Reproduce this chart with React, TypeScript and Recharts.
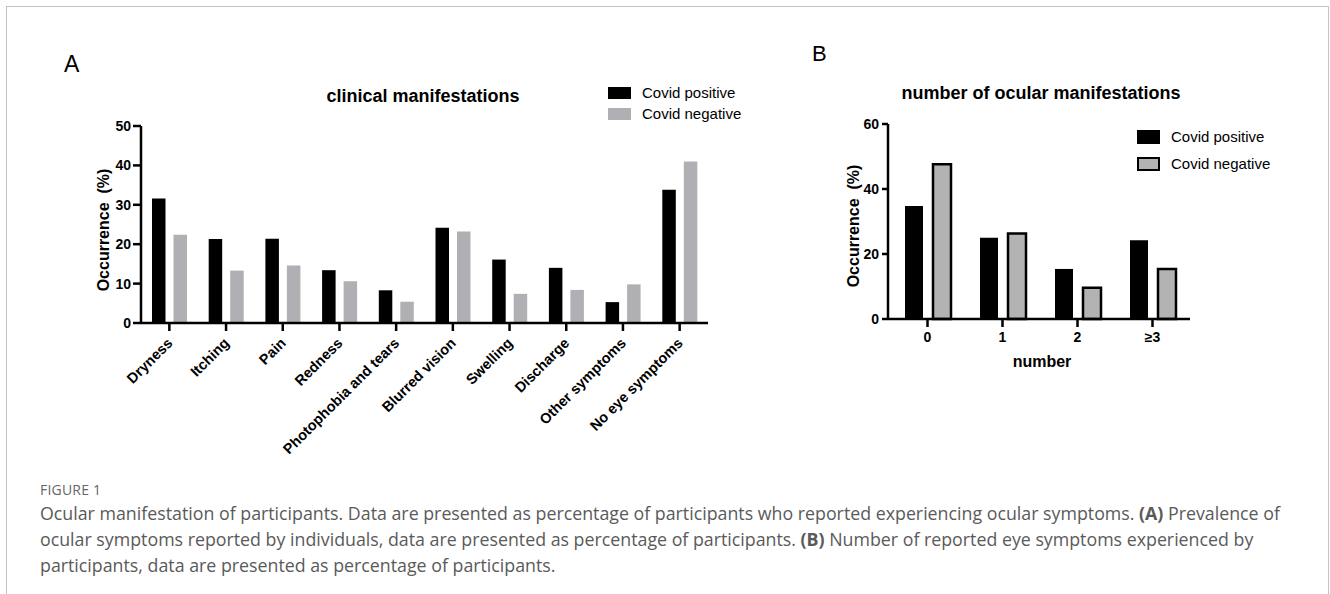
import { BarChart, Bar, XAxis, YAxis, Legend } from 'recharts';

// panel A
const symptoms = [
  'Dryness',
  'Itching',
  'Pain',
  'Redness',
  'Photophobia and tears',
  'Blurred vision',
  'Swelling',
  'Discharge',
  'Other symptoms',
  'No eye symptoms',
];
const symptomPositive = [31.6, 21.3, 21.4, 13.4, 8.3, 24.2, 16.1, 14.0, 5.3, 33.8];
const symptomNegative = [22.4, 13.3, 14.6, 10.6, 5.4, 23.2, 7.4, 8.4, 9.8, 41.0];
const ticksA = [0, 10, 20, 30, 40, 50];

// panel B
const counts = ['0', '1', '2', '≥3'];
const countPositive = [34.8, 25.0, 15.4, 24.2];
const countNegative = [47.6, 26.3, 9.6, 15.4];
const ticksB = [0, 20, 40, 60];

const dataA = symptoms.map((name, i) => ({ name, pos: symptomPositive[i], neg: symptomNegative[i] }));
const dataB = counts.map((name, i) => ({ name, pos: countPositive[i], neg: countNegative[i] }));

const FONT = '"Liberation Sans", Arial, sans-serif';
const AXIS = { stroke: '#000', strokeWidth: 2.5 };
const tickStyle = { fill: '#000', fontSize: 14, fontWeight: 700, fontFamily: FONT };
const ORDER = ['pos', 'neg'];

const RotatedTick = ({ x, y, payload }: any) => {
  const ax = x + 4;
  const ay = y + 11;
  return (
    <text
      x={ax}
      y={ay}
      transform={`rotate(-45 ${ax} ${ay})`}
      textAnchor="end"
      fontSize={14.5}
      fontWeight={700}
      fontFamily={FONT}
      fill="#000"
    >
      {payload.value}
    </text>
  );
};

const makeLegend = (bordered: boolean, rowH: number) => ({ payload }: any) => {
  const items = [...(payload || [])].sort((a: any, b: any) => ORDER.indexOf(a.dataKey) - ORDER.indexOf(b.dataKey));
  return (
    <div style={{ fontFamily: FONT, fontSize: 15, color: '#000', whiteSpace: 'nowrap' }}>
      {items.map((entry: any) => (
        <div key={entry.value} style={{ display: 'flex', alignItems: 'center', height: rowH }}>
          <span
            style={{
              display: 'inline-block',
              boxSizing: 'border-box',
              width: 23,
              height: bordered ? 14 : 12,
              background: entry.color,
              border: bordered ? '2.5px solid #000' : 'none',
              marginRight: 11,
            }}
          />
          <span>{entry.value}</span>
        </div>
      ))}
    </div>
  );
};

const YLabel = ({ x, y }: { x: number; y: number }) => (
  <text
    x={x}
    y={y}
    transform={`rotate(-90 ${x} ${y})`}
    textAnchor="middle"
    fontSize={16}
    fontWeight={700}
    fontFamily={FONT}
    fill="#000"
  >
    Occurrence{'\u00a0 '}(%)
  </text>
);

export default function App() {
  return (
    <div style={{ position: 'fixed', left: 0, top: 0, width: 1330, height: 594, background: '#fff', overflow: 'hidden' }}>
      <div
        style={{
          position: 'absolute',
          left: 6,
          top: 6,
          width: 1321,
          height: 600,
          borderTop: '1.5px solid #c4c4c4',
          borderLeft: '1.5px solid #c4c4c4',
          borderRight: '1.5px solid #c4c4c4',
        }}
      />

      {/* panel A */}
      <div style={{ position: 'absolute', left: 0, top: 0 }}>
        <BarChart
          width={720}
          height={480}
          data={dataA}
          margin={{ top: 126, right: 12, bottom: 127, left: 101 }}
          barSize={13.5}
          barGap={8}
        >
          <text x={64} y={72} fontSize={23} fontFamily={FONT} fill="#000">A</text>
          <text x={423} y={102} textAnchor="middle" fontSize={18} fontWeight={700} fontFamily={FONT} fill="#000">
            clinical manifestations
          </text>
          <YLabel x={109} y={230} />
          <XAxis
            dataKey="name"
            interval={0}
            height={30}
            axisLine={AXIS}
            tickLine={AXIS}
            tickSize={8}
            tick={<RotatedTick />}
          />
          <YAxis
            width={40}
            domain={[0, 50]}
            ticks={ticksA}
            axisLine={AXIS}
            tickLine={AXIS}
            tickSize={8}
            tickMargin={2}
            tick={tickStyle}
          />
          <Legend
            layout="horizontal"
            verticalAlign="middle"
            align="center"
            content={makeLegend(false, 21)}
            wrapperStyle={{ left: 608, top: 82, width: 'auto' }}
          />
          <Bar dataKey="pos" name="Covid positive" fill="#000" isAnimationActive={false} />
          <Bar dataKey="neg" name="Covid negative" fill="#b0b0b4" isAnimationActive={false} />
        </BarChart>
      </div>

      {/* panel B */}
      <div style={{ position: 'absolute', left: 760, top: 0 }}>
        <BarChart
          width={570}
          height={480}
          data={dataB}
          margin={{ top: 124, right: 140, bottom: 131, left: 88 }}
          barSize={18}
          barGap={10}
        >
          <text x={52} y={61} fontSize={22} fontFamily={FONT} fill="#000">B</text>
          <text x={281} y={99} textAnchor="middle" fontSize={18} fontWeight={700} fontFamily={FONT} fill="#000">
            number of ocular manifestations
          </text>
          <YLabel x={99} y={226} />
          <text x={282} y={367} textAnchor="middle" fontSize={16} fontWeight={700} fontFamily={FONT} fill="#000">
            number
          </text>
          <XAxis
            dataKey="name"
            interval={0}
            height={30}
            padding={{ left: 2, right: 0 }}
            axisLine={AXIS}
            tickLine={AXIS}
            tickSize={8}
            tickMargin={5}
            tick={tickStyle}
          />
          <YAxis
            width={40}
            domain={[0, 60]}
            ticks={ticksB}
            axisLine={AXIS}
            tickLine={AXIS}
            tickSize={6}
            tickMargin={3}
            tick={tickStyle}
          />
          <Legend
            layout="horizontal"
            verticalAlign="middle"
            align="center"
            content={makeLegend(true, 27)}
            wrapperStyle={{ left: 377, top: 123, width: 'auto' }}
          />
          <Bar dataKey="pos" name="Covid positive" fill="#000" isAnimationActive={false} />
          <Bar dataKey="neg" name="Covid negative" fill="#b3b3b3" stroke="#000" strokeWidth={2.5} isAnimationActive={false} />
        </BarChart>
      </div>

      {/* caption */}
      <div style={{ position: 'absolute', left: 40, top: 480, fontFamily: '"Open Sans", sans-serif', color: '#666', fontSize: 14, letterSpacing: 0.2 }}>
        FIGURE 1
      </div>
      <div
        style={{
          position: 'absolute',
          left: 40,
          top: 500,
          fontFamily: '"Open Sans", sans-serif',
          color: '#5a5a5a',
          fontSize: 17.8,
          lineHeight: '26px',
          whiteSpace: 'nowrap',
        }}
      >
        <div>
          Ocular manifestation of participants. Data are presented as percentage of participants who reported experiencing ocular symptoms. <b>(A)</b> Prevalence of
        </div>
        <div>
          ocular symptoms reported by individuals, data are presented as percentage of participants. <b>(B)</b> Number of reported eye symptoms experienced by
        </div>
        <div>participants, data are presented as percentage of participants.</div>
      </div>
    </div>
  );
}
